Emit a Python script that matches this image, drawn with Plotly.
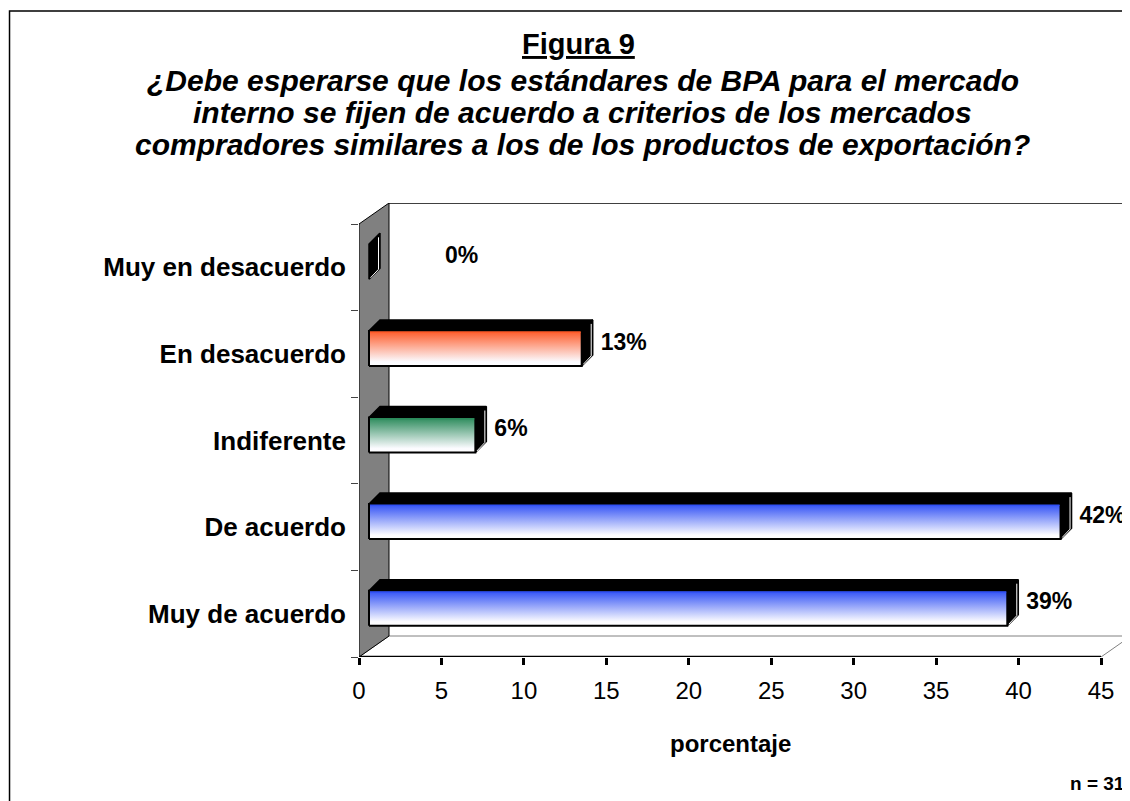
import plotly.graph_objects as go

# ---- data ----
categories = ["Muy de acuerdo", "De acuerdo", "Indiferente", "En desacuerdo", "Muy en desacuerdo"]
values = [38.71, 41.94, 6.45, 12.90, 0.0]
labels = ["39%", "42%", "6%", "13%", "0%"]
bar_colors = ["#3050F5", "#3050F5", "#2A8A5A", "#FF5A28", "#202020"]
x_ticks = [0, 5, 10, 15, 20, 25, 30, 35, 40, 45]

# ---- geometry (reference pixel targets, corrected for page offset) ----
W, H = 1130, 801
OX, OY = 7, 7                      # page offset of the rendered figure
ML = 358 - OX
MT = 202 - OY
PX = 16.49          # px per x unit
PY = 86.6           # px per category
DX = 1 / PX
DY = 1 / PY
WX, WY = 30 * DX, 21 * DY     # wall depth
XMAX = 45
XR = XMAX + WX
YR = len(categories) + WY
PLOT_W = XR * PX
PLOT_H = YR * PY
MR = W - ML - PLOT_W
MB = H - MT - PLOT_H

fig = go.Figure()

def poly(xs, ys, fill=None, line_color="black", lw=1, grad=None):
    kw = {}
    if grad is not None:
        kw["fillgradient"] = grad
    else:
        kw["fillcolor"] = fill
    fig.add_trace(go.Scatter(x=xs + [xs[0]], y=ys + [ys[0]], mode="lines", fill="toself",
                             line=dict(color=line_color, width=lw), hoverinfo="skip",
                             showlegend=False, **kw))

# floor
poly([0, XMAX, XMAX + WX, WX], [0, 0, WY, WY], fill="white", line_color="#808080", lw=1)
# side wall
poly([0, 0, WX, WX], [0, len(categories), YR, WY], fill="#808080", line_color="black", lw=1)
# back wall top edge
fig.add_trace(go.Scatter(x=[WX, XR], y=[YR, YR], mode="lines", line=dict(color="black", width=1.5),
                         hoverinfo="skip", showlegend=False))

# bars
bx0 = 10 * DX
bdx, bdy = 11 * DX, 11 * DY
for i, (v, c) in enumerate(zip(values, bar_colors)):
    cy = i + 0.5
    yb = cy - 12 * DY
    yt = cy + 23 * DY
    x1 = bx0 + v
    # top face
    poly([bx0, x1, x1 + bdx, bx0 + bdx], [yt, yt, yt + bdy, yt + bdy], fill="black", lw=1.5)
    # side face
    poly([x1, x1, x1 + bdx, x1 + bdx], [yb, yt, yt + bdy, yb + bdy], fill="black", lw=1.5)
    # bevel highlight on side face
    fig.add_trace(go.Scatter(x=[x1 + 1.5 * DX, x1 + bdx - 1.5 * DX, x1 + bdx - 1.5 * DX],
                             y=[yb + 1.5 * DY, yb + bdy - 1 * DY, yt + bdy - 4 * DY],
                             mode="lines", line=dict(color="white", width=1), hoverinfo="skip",
                             showlegend=False))
    if v > 0:
        poly([bx0, x1, x1, bx0], [yb, yb, yt, yt], line_color="black", lw=2,
             grad=dict(type="vertical",
                       colorscale=[[0, "#ffffff"], [0.12, "#fbfbff"], [1, c]]))
        fig.add_trace(go.Scatter(x=[bx0 + 1 * DX, x1 - 1 * DX], y=[yt - 1.2 * DY, yt - 1.2 * DY],
                                 mode="lines", line=dict(color=c, width=1.5), hoverinfo="skip",
                                 showlegend=False))

# data labels
lab_x = [v + 29 * DX if v > 0 else 86 * DX for v in values]
lab_y = [i + 0.5 + 10 * DY for i in range(len(values))]
fig.add_trace(go.Scatter(x=lab_x, y=lab_y, mode="text", text=labels, textposition="middle right",
                         textfont=dict(family="Liberation Sans, Arial", size=23, color="black",
                                       weight="bold"),
                         hoverinfo="skip", showlegend=False, cliponaxis=False))

# x-axis line (front edge of floor)
fig.add_shape(type="line", xref="x", yref="y", x0=0, x1=XMAX, y0=0, y1=0,
              line=dict(color="black", width=2.5))

fig.update_xaxes(range=[0, XR], tickvals=x_ticks, ticks="outside", ticklen=7, tickwidth=2.5,
                 tickcolor="black", showline=False, showgrid=False, zeroline=False,
                 tickfont=dict(family="Liberation Sans, Arial", size=24, color="black"),
                 ticklabelstandoff=5, automargin=False)
fig.update_yaxes(range=[0, YR], tickvals=[i + 0.5 for i in range(len(categories))],
                 ticktext=categories, ticks="", showline=False, showgrid=False, zeroline=False,
                 tickfont=dict(family="Liberation Sans, Arial", size=26, color="black", weight="bold"),
                 ticklabelstandoff=12, automargin=False,
                 minor=dict(tickvals=list(range(len(categories) + 1)), ticks="outside", ticklen=7,
                            tickwidth=1, tickcolor="#444"))

def py2paper(py):
    return (H - MB - (py - OY)) / PLOT_H

def px2paper(px):
    return (px - OX - ML) / PLOT_W

# outer border
fig.add_shape(type="rect", xref="paper", yref="paper", x0=px2paper(8.5), x1=px2paper(1200),
              y0=py2paper(900), y1=py2paper(10), line=dict(color="black", width=1.5),
              fillcolor="rgba(0,0,0,0)", layer="below")

# titles
fig.add_annotation(xref="paper", yref="paper", x=px2paper(578), y=py2paper(43),
                   text="<b><u>Figura 9</u></b>", showarrow=False, xanchor="center", yanchor="middle",
                   font=dict(family="Liberation Sans, Arial", size=29, color="black"))
question = ["¿Debe esperarse que los estándares de BPA para el mercado",
            "interno se fijen de acuerdo a criterios de los mercados",
            "compradores similares a los de los productos de exportación?"]
for k, line in enumerate(question):
    fig.add_annotation(xref="paper", yref="paper", x=px2paper(582), y=py2paper(79 + 32 * k),
                       text="<b><i>" + line + "</i></b>", showarrow=False, xanchor="center",
                       yanchor="middle",
                       font=dict(family="Liberation Sans, Arial", size=30, color="black"))

fig.add_annotation(xref="x", yref="paper", x=XMAX / 2, y=py2paper(742), text="<b>porcentaje</b>",
                   showarrow=False, xanchor="center", yanchor="middle",
                   font=dict(family="Liberation Sans, Arial", size=24, color="black"))
fig.add_annotation(xref="paper", yref="paper", x=px2paper(1126), y=py2paper(782), text="<b>n = 31</b>",
                   showarrow=False, xanchor="right", yanchor="middle",
                   font=dict(family="Liberation Sans, Arial", size=19, color="black"))

fig.update_layout(width=W, height=H, margin=dict(l=ML, r=MR, t=MT, b=MB),
                  plot_bgcolor="white", paper_bgcolor="white", showlegend=False)

fig.write_html("out.html")
